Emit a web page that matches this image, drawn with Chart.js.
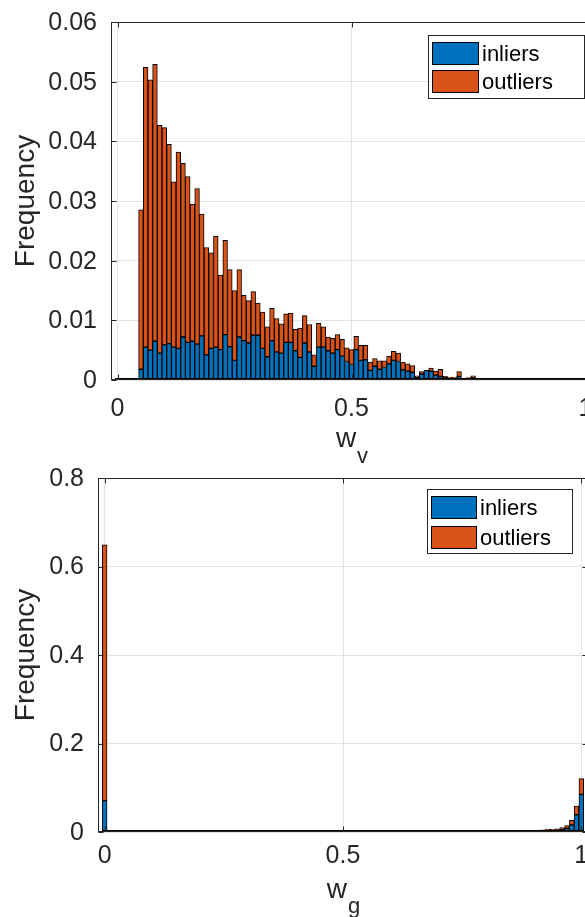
<!DOCTYPE html>
<html>
<head>
<meta charset="utf-8">
<script src="https://cdn.jsdelivr.net/npm/chart.js@4/dist/chart.umd.min.js"></script>
<style>
html,body{margin:0;padding:0;background:#fff;overflow:hidden;width:585px;height:917px;position:relative;}
.wrap{position:absolute;left:0;}
canvas{display:block;}
</style>
</head>
<body>
<div class="wrap" style="top:0px"><canvas id="c1" width="600" height="470" style="width:600px;height:470px"></canvas></div>
<div class="wrap" style="top:458px"><canvas id="c2" width="600" height="459" style="width:600px;height:459px"></canvas></div>
<script>
// ---------------- DATA ----------------
const seriesNames = ['inliers', 'outliers'];
const binCenters = [
  0,0.01,0.02,0.03,0.04,0.05,0.06,0.07,0.08,0.09,
  0.10,0.11,0.12,0.13,0.14,0.15,0.16,0.17,0.18,0.19,
  0.20,0.21,0.22,0.23,0.24,0.25,0.26,0.27,0.28,0.29,
  0.30,0.31,0.32,0.33,0.34,0.35,0.36,0.37,0.38,0.39,
  0.40,0.41,0.42,0.43,0.44,0.45,0.46,0.47,0.48,0.49,
  0.50,0.51,0.52,0.53,0.54,0.55,0.56,0.57,0.58,0.59,
  0.60,0.61,0.62,0.63,0.64,0.65,0.66,0.67,0.68,0.69,
  0.70,0.71,0.72,0.73,0.74,0.75,0.76,0.77,0.78,0.79,
  0.80,0.81,0.82,0.83,0.84,0.85,0.86,0.87,0.88,0.89,
  0.90,0.91,0.92,0.93,0.94,0.95,0.96,0.97,0.98,0.99,
  1.00
];
// top chart (w_v)
const topInliers = [
  0,0,0,0,0,0.0018,0.0055,0.0050,0.0065,0.0045,
  0.0059,0.0061,0.0055,0.0053,0.0072,0.0063,0.0065,0.0060,0.0074,0.0042,
  0.0053,0.0055,0.0051,0.0076,0.0056,0.0033,0.0072,0.0066,0.0062,0.0075,
  0.0075,0.0053,0.0039,0.0066,0.0047,0.0045,0.0063,0.0063,0.0049,0.0038,
  0.0062,0.0047,0.0023,0.0055,0.0055,0.0049,0.0045,0.0051,0.0040,0.0031,
  0.0026,0.0051,0.0033,0.0034,0.0016,0.0023,0.0018,0.0021,0.0027,0.0033,
  0.0031,0.0017,0.0015,0.0013,0.0004,0.0010,0.0016,0.0015,0.0008,0.0006,
  0.0004,0.0003,0.0003,0.0006,0.0003,0.0003,0.0005,0.0003,0.0002,0.0002,
  0.0001,0.0002,0.0001,0,0,0,0,0,0,0,
  0,0,0,0,0,0,0,0,0,0,
  0
];
const topOutliers = [
  0,0,0,0,0,0.0267,0.0469,0.0453,0.0464,0.0382,
  0.0364,0.0334,0.0277,0.0329,0.0291,0.0278,0.0230,0.0261,0.0204,0.0180,
  0.0160,0.0186,0.0125,0.0158,0.0129,0.0117,0.0113,0.0076,0.0071,0.0073,
  0.0054,0.0061,0.0050,0.0054,0.0056,0.0049,0.0048,0.0049,0.0036,0.0049,
  0.0046,0.0046,0.0019,0.0040,0.0034,0.0023,0.0025,0.0025,0.0028,0.0023,
  0.0025,0.0022,0.0025,0.0024,0.0014,0.0013,0.0014,0.0011,0.0013,0.0015,
  0.0014,0.0013,0.0012,0.0011,0.0003,0.0004,0,0.0005,0.0007,0.0012,
  0.0002,0.0002,0.0002,0.0008,0,0.0001,0.0002,0,0,0,
  0,0,0,0,0,0,0,0,0,0,
  0,0,0,0,0,0,0,0,0,0,
  0
];
// bottom chart (w_g)
const bottomInliers = [
  0.0708,0,0,0,0,0,0,0,0,0,
  0,0,0,0,0,0,0,0,0,0,
  0,0,0,0,0,0,0,0,0,0,
  0,0,0,0,0,0,0,0,0,0,
  0,0,0,0,0,0,0,0,0,0,
  0,0,0,0,0,0,0,0,0,0,
  0,0,0,0,0,0,0,0,0,0,
  0,0,0,0,0,0,0,0,0,0,
  0,0,0,0,0.0003,0.0004,0.0005,0.0006,0.0010,0.0012,
  0.0020,0.0030,0.0040,0.0030,0.0038,0.0023,0.0055,0.0083,0.0160,0.0390,
  0.0850
];
const bottomOutliers = [
  0.5780,0,0,0,0,0,0,0,0,0,
  0,0,0,0,0,0,0,0,0,0,
  0,0,0,0,0,0,0,0,0,0,
  0,0,0,0,0,0,0,0,0,0,
  0,0,0,0,0,0,0,0,0,0,
  0,0,0,0,0,0,0,0,0,0,
  0,0,0,0,0,0,0,0,0,0,
  0,0,0,0,0,0,0,0,0,0,
  0,0,0,0,0.0002,0.0002,0.0003,0.0003,0.0005,0.0008,
  0.0010,0.0008,0.0010,0.0038,0.0022,0.0047,0.0043,0.0062,0.0104,0.0195,
  0.0357
];
const xTickValues = [0, 0.5, 1];
const xTickLabels = ['0', '0.5', '1'];
const topYTickValues = [0, 0.01, 0.02, 0.03, 0.04, 0.05, 0.06];
const topYTickLabels = ['0', '0.01', '0.02', '0.03', '0.04', '0.05', '0.06'];
const bottomYTickValues = [0, 0.2, 0.4, 0.6, 0.8];
const bottomYTickLabels = ['0', '0.2', '0.4', '0.6', '0.8'];

// ---------------- STYLE ----------------
const FONT = '"Liberation Sans", Arial, Helvetica, sans-serif';
const AXIS = '#262626';
const GRID = '#e3e3e3';
const BLUE = '#0072BD';
const ORANGE = '#D95319';

function pts(vals) { return vals.map((v, i) => ({ x: binCenters[i], y: v })); }

function decor(cfg) {
  return {
    id: 'decor',
    afterDraw(chart) {
      const ctx = chart.ctx, a = chart.chartArea;
      const xs = chart.scales.x, ys = chart.scales.y;
      ctx.save();
      const L = a.left + 0.5, R = a.right - 0.5, T = a.top + 0.5, B = a.bottom - 0.5;
      // box
      ctx.strokeStyle = AXIS; ctx.lineWidth = 1;
      ctx.strokeRect(L, T, R - L, B - T);
      // zero-height bin edges along the baseline (from first to last bin)
      ctx.strokeStyle = '#000';
      ctx.beginPath();
      ctx.moveTo(xs.getPixelForValue(binCenters[0] - 0.005), B - 1);
      ctx.lineTo(xs.getPixelForValue(binCenters[binCenters.length - 1] + 0.005), B - 1);
      ctx.stroke();
      ctx.strokeStyle = AXIS;
      // inward ticks
      const tl = 5;
      ctx.beginPath();
      cfg.yTicks.forEach(v => {
        const y = Math.round(ys.getPixelForValue(v)) + 0.5;
        ctx.moveTo(L, y); ctx.lineTo(L + tl, y);
        ctx.moveTo(R, y); ctx.lineTo(R - tl, y);
      });
      cfg.xTicks.forEach(v => {
        const x = Math.round(xs.getPixelForValue(v)) + 0.5;
        ctx.moveTo(x, B); ctx.lineTo(x, B - tl);
        ctx.moveTo(x, T); ctx.lineTo(x, T + tl);
      });
      ctx.stroke();
      // tick labels
      ctx.fillStyle = AXIS;
      ctx.font = cfg.tickFont + 'px ' + FONT;
      ctx.textAlign = 'right'; ctx.textBaseline = 'middle';
      cfg.yTicks.forEach((v, i) => ctx.fillText(cfg.yLabels[i], a.left - cfg.yGap, ys.getPixelForValue(v) + 1));
      ctx.textAlign = 'center';
      cfg.xTicks.forEach((v, i) => ctx.fillText(cfg.xLabels[i], xs.getPixelForValue(v), cfg.xLabelY));
      // y title
      ctx.save();
      ctx.font = cfg.titleFont + 'px ' + FONT;
      ctx.translate(cfg.yTitleX, (a.top + a.bottom) / 2);
      ctx.rotate(-Math.PI / 2);
      ctx.textAlign = 'center'; ctx.textBaseline = 'middle';
      ctx.fillText('Frequency', 0, 0);
      ctx.restore();
      // x title with subscript
      ctx.textAlign = 'left'; ctx.textBaseline = 'alphabetic';
      ctx.font = cfg.titleFont + 'px ' + FONT;
      const wm = ctx.measureText('w').width;
      ctx.font = cfg.subFont + 'px ' + FONT;
      const wsub = ctx.measureText(cfg.sub).width;
      const cx = (a.left + a.right) / 2;
      const x0 = cx - (wm + wsub) / 2;
      ctx.font = cfg.titleFont + 'px ' + FONT;
      ctx.fillText('w', x0, cfg.xTitleBase);
      ctx.font = cfg.subFont + 'px ' + FONT;
      ctx.fillText(cfg.sub, x0 + wm + 1, cfg.xTitleBase + cfg.subDrop);
      // legend
      const lg = cfg.legend;
      ctx.fillStyle = '#ffffff';
      ctx.fillRect(lg.l, lg.t, lg.r - lg.l, lg.b - lg.t);
      ctx.strokeStyle = AXIS; ctx.lineWidth = 1;
      ctx.strokeRect(lg.l + 0.5, lg.t + 0.5, lg.r - lg.l, lg.b - lg.t);
      const cols = [BLUE, ORANGE];
      ctx.font = cfg.legendFont + 'px ' + FONT;
      ctx.textBaseline = 'middle'; ctx.textAlign = 'left';
      seriesNames.forEach((n, i) => {
        const sy = lg.swTop[i];
        ctx.fillStyle = cols[i];
        ctx.fillRect(lg.swL, sy, lg.swW, lg.swH);
        ctx.strokeStyle = '#000'; ctx.lineWidth = 1;
        ctx.strokeRect(lg.swL + 0.5, sy + 0.5, lg.swW - 1, lg.swH - 1);
        ctx.fillStyle = '#000';
        ctx.fillText(n, lg.textX, sy + lg.swH / 2 + 1);
      });
      ctx.restore();
    }
  };
}

function makeChart(id, inl, outl, ymax, yTicks, yLabels, pad, cfg) {
  return new Chart(document.getElementById(id), {
    type: 'bar',
    data: {
      datasets: [
        { label: seriesNames[0], data: pts(inl), backgroundColor: BLUE, borderColor: '#000', borderWidth: 1, borderSkipped: false, barPercentage: 1, categoryPercentage: 1 },
        { label: seriesNames[1], data: pts(outl), backgroundColor: ORANGE, borderColor: '#000', borderWidth: 1, borderSkipped: false, barPercentage: 1, categoryPercentage: 1 }
      ]
    },
    options: {
      responsive: false,
      animation: false,
      devicePixelRatio: 1,
      layout: { padding: pad },
      plugins: { legend: { display: false }, tooltip: { enabled: false } },
      scales: {
        x: {
          type: 'linear', stacked: true, min: -0.014, max: 1.014, offset: false,
          afterBuildTicks: s => { s.ticks = xTickValues.map(v => ({ value: v })); },
          ticks: { display: false },
          grid: { color: GRID, drawTicks: false, lineWidth: 1, offset: false },
          border: { display: false },
          afterFit: s => { s.height = 0; }
        },
        y: {
          type: 'linear', stacked: true, min: 0, max: ymax,
          afterBuildTicks: s => { s.ticks = yTicks.map(v => ({ value: v })); },
          ticks: { display: false },
          grid: { color: GRID, drawTicks: false, lineWidth: 1, offset: false },
          border: { display: false },
          afterFit: s => { s.width = 0; }
        }
      }
    },
    plugins: [decor(Object.assign({ yTicks: yTicks, yLabels: yLabels, xTicks: xTickValues, xLabels: xTickLabels }, cfg))]
  });
}

makeChart('c1', topInliers, topOutliers, 0.06, topYTickValues, topYTickLabels,
  { left: 111, top: 22, right: 8, bottom: 90 },
  {
    tickFont: 25, titleFont: 28, subFont: 22, legendFont: 22,
    yGap: 14, xLabelY: 409, yTitleX: 26, xTitleBase: 447, subDrop: 16, sub: 'v',
    legend: { l: 428, t: 35, r: 584, b: 98, swL: 432, swW: 47, swH: 23, swTop: [42, 70], textX: 482 }
  });

makeChart('c2', bottomInliers, bottomOutliers, 0.8, bottomYTickValues, bottomYTickLabels,
  { left: 98, top: 20, right: 12, bottom: 85 },
  {
    tickFont: 25, titleFont: 28, subFont: 22, legendFont: 22,
    yGap: 14, xLabelY: 398, yTitleX: 26, xTitleBase: 440, subDrop: 15, sub: 'g',
    legend: { l: 427, t: 31, r: 572, b: 95, swL: 431, swW: 46, swH: 23, swTop: [38, 68], textX: 480 }
  });
</script>
</body>
</html>
